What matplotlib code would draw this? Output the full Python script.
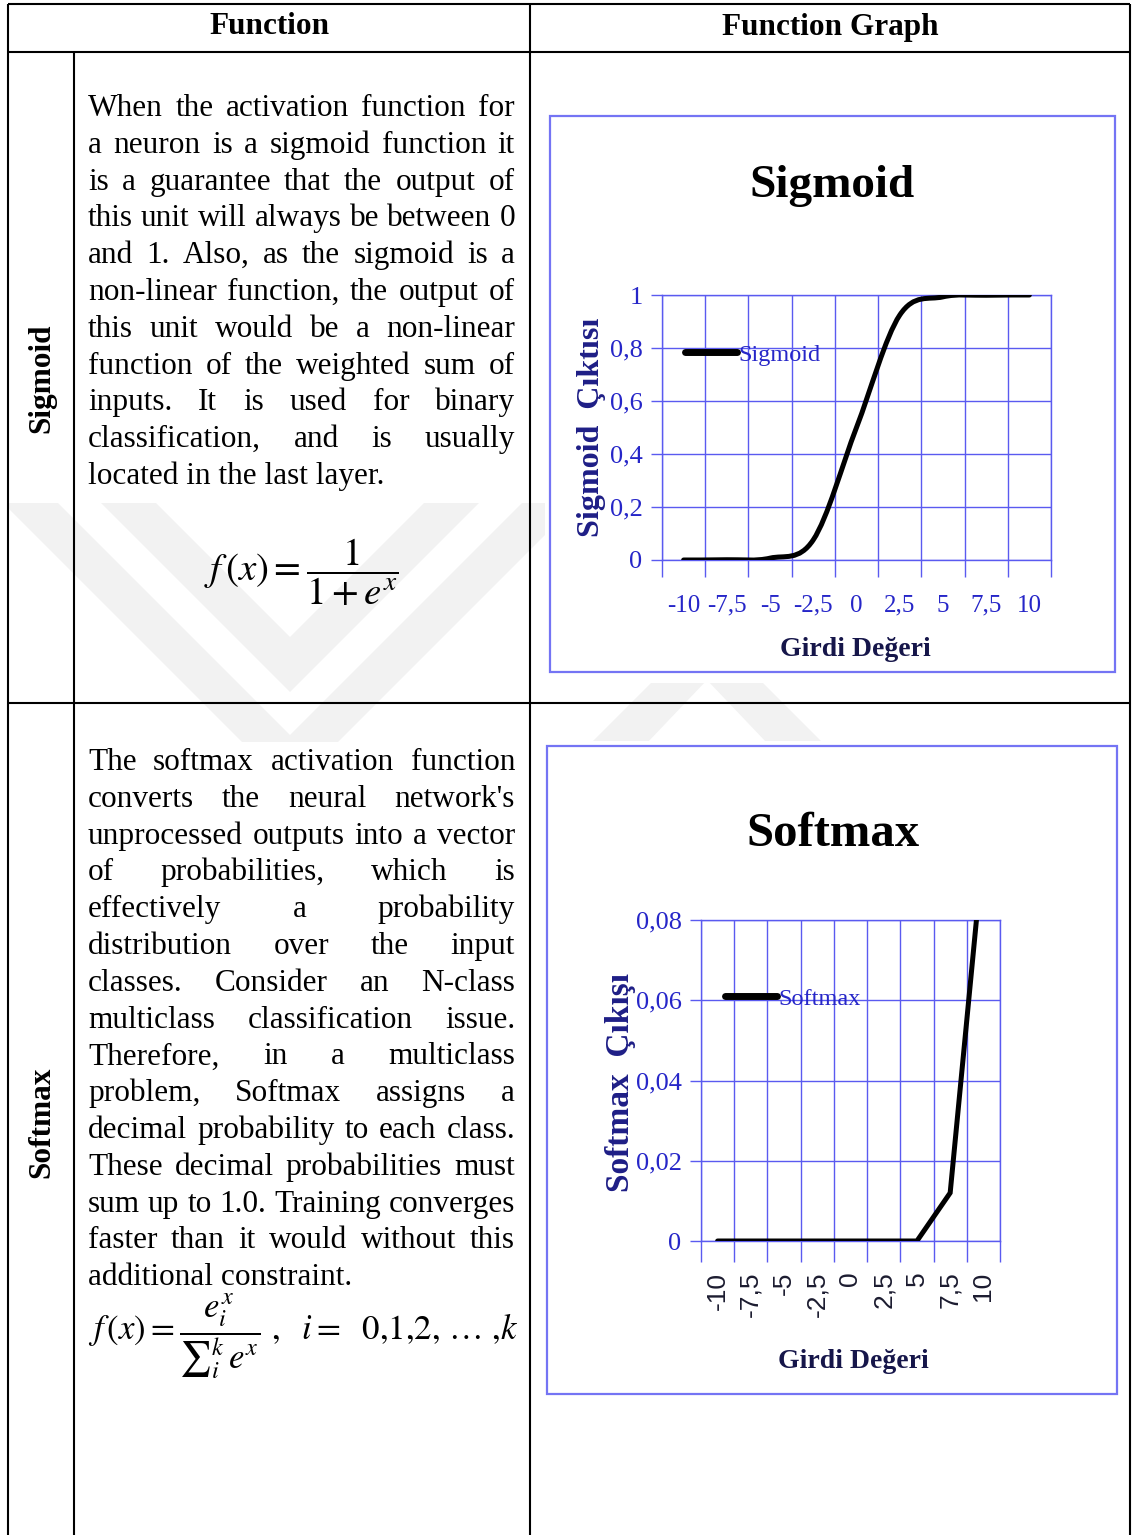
import numpy as np
import matplotlib
matplotlib.use("Agg")
import matplotlib.pyplot as plt
from matplotlib.path import Path
from matplotlib.patches import PathPatch, Rectangle, Polygon
from matplotlib.lines import Line2D

plt.rcParams['mathtext.fontset'] = 'stix'
SERIF = "Liberation Serif"
SANS = "Liberation Sans"

W, H = 1132, 1535

# ---- data ----
headers = ["Function", "Function Graph"]
row_names = ["Sigmoid", "Softmax"]

sigmoid_text = ["When the activation function for",
                "a neuron is a sigmoid function it",
                "is a guarantee that the output of",
                "this unit will always be between 0",
                "and 1. Also, as the sigmoid is a",
                "non-linear function, the output of",
                "this unit would be a non-linear",
                "function of the weighted sum of",
                "inputs. It is used for binary",
                "classification, and is usually",
                "located in the last layer."]

softmax_text = ["The softmax activation function",
                "converts the neural network's",
                "unprocessed outputs into a vector",
                "of probabilities, which is",
                "effectively a probability",
                "distribution over the input",
                "classes. Consider an N-class",
                "multiclass classification issue.",
                "Therefore, in a multiclass",
                "problem, Softmax assigns a",
                "decimal probability to each class.",
                "These decimal probabilities must",
                "sum up to 1.0. Training converges",
                "faster than it would without this",
                "additional constraint."]

sigmoid_formula = r"$f\,(x) = \dfrac{1}{1 + e^{x}}$"
softmax_formula = r"$f\,(x) = \dfrac{e_i^{x}}{{\sum}_i^k\, e^{x}}\ ,\ \ i =\ \ 0{,}1{,}2{,}\ \ldots\ {,}k$"

x_labels = ["-10", "-7,5", "-5", "-2,5", "0", "2,5", "5", "7,5", "10"]
sigmoid_y = [0.0, 0.001, 0.007, 0.076, 0.5, 0.924, 0.993, 0.999, 1.0]
softmax_y = [0.0, 0.0, 0.0, 0.0, 0.0, 0.0, 0.0, 0.012, 0.098]
sig_yticks = [0, 0.2, 0.4, 0.6, 0.8, 1.0]
sig_ytick_labels = ["0", "0,2", "0,4", "0,6", "0,8", "1"]
soft_yticks = [0, 0.02, 0.04, 0.06, 0.08]
soft_ytick_labels = ["0", "0,02", "0,04", "0,06", "0,08"]

GRID = "#5a5af0"
FRAME = "#7474f4"
TICKBLUE = "#2626c8"
NAVY = "#1e1e86"
DARK = "#16164a"

fig = plt.figure(figsize=(W / 100, H / 100), dpi=100)
bg = fig.add_axes([0, 0, 1, 1])
bg.set_xlim(0, W)
bg.set_ylim(H, 0)
bg.axis("off")

# faint watermark (chevrons), only visible in a horizontal strip
wm = "#f2f2f2"
clip = Rectangle((8, 503), 1122, 239, transform=bg.transData)
vx = 290
for y_in, y_out in [(637, 692), (735, 790)]:
    pts = [(vx - (y_out - 400), 400), (vx, y_out), (vx + (y_out - 400), 400),
           (vx + (y_in - 400), 400), (vx, y_in), (vx - (y_in - 400), 400)]
    p = Polygon(pts, closed=True, fc=wm, ec="none", zorder=0)
    bg.add_patch(p)
    p.set_clip_path(clip)
lam = Polygon([(707, 627), (907, 827), (847, 827), (707, 680), (567, 827), (507, 827)],
              closed=True, fc=wm, ec="none", zorder=0)
bg.add_patch(lam)
lam.set_clip_path(clip)

# chart images are opaque
bg.add_patch(Rectangle((545, 100), 583, 583, fc="white", ec="none", zorder=0.5))
bg.add_patch(Rectangle((545, 741), 583, 660, fc="white", ec="none", zorder=0.5))

# table borders
lw = 1.5
for xs, ys in [((8, 1130), (4, 4)), ((8, 1130), (52, 52)), ((8, 1130), (703, 703)),
               ((8, 8), (4, H)), ((1130, 1130), (4, H)), ((530, 530), (4, H)),
               ((74, 74), (52, H))]:
    bg.plot(xs, ys, color="black", lw=lw, solid_capstyle="butt", zorder=2)

bg.text(270, 27, headers[0], fontsize=22.5, family=SERIF, weight="bold", ha="center", va="center")
bg.text(830, 27, headers[1], fontsize=22.5, family=SERIF, weight="bold", ha="center", va="center")
bg.text(42, 378, row_names[0], fontsize=22.5, family=SERIF, weight="bold", rotation=90,
        ha="center", va="center")
bg.text(42, 1122, row_names[1], fontsize=22.5, family=SERIF, weight="bold", rotation=90,
        ha="center", va="center")

renderer = fig.canvas.get_renderer()


def paragraph(lines, x0, x1, y0, step, size=22.5):
    for k, line in enumerate(lines):
        y = y0 + k * step
        if k == len(lines) - 1:
            bg.text(x0, y, line, fontsize=size, family=SERIF, va="baseline", zorder=3)
            continue
        words = line.split()
        ts = [bg.text(x0, y, w, fontsize=size, family=SERIF, va="baseline", zorder=3)
              for w in words]
        widths = [t.get_window_extent(renderer).width for t in ts]
        gap = (x1 - x0 - sum(widths)) / (len(words) - 1)
        x = x0
        for t, w in zip(ts, widths):
            t.set_x(x)
            x += w + gap


paragraph(sigmoid_text, 88, 515, 116, 36.8)
paragraph(softmax_text, 88, 515, 770, 36.8)

bg.text(301, 572, sigmoid_formula, fontsize=28, ha="center", va="center", zorder=3)
bg.text(88, 1336, softmax_formula, fontsize=25, ha="left", va="center", zorder=3)

# chart frames
bg.add_patch(Rectangle((550, 116), 565, 556, fc="white", ec=FRAME, lw=1.6, zorder=1))
bg.add_patch(Rectangle((547, 746), 570, 648, fc="white", ec=FRAME, lw=1.6, zorder=1))


def smooth_path(xs, ys):
    verts = [(xs[0], ys[0])]
    codes = [Path.MOVETO]
    n = len(xs)
    for i in range(n - 1):
        a, b = max(i - 1, 0), min(i + 2, n - 1)
        c1 = (xs[i] + (xs[i + 1] - xs[a]) / 6, ys[i] + (ys[i + 1] - ys[a]) / 6)
        c2 = (xs[i + 1] - (xs[b] - xs[i]) / 6, ys[i + 1] - (ys[b] - ys[i]) / 6)
        verts += [c1, c2, (xs[i + 1], ys[i + 1])]
        codes += [Path.CURVE4] * 3
    return Path(verts, codes)


def setup_axes(ax, yticks, ylabels, ylim, ysize, xsize, xfamily, xcolor, xrot, xpad, xlen):
    n = len(x_labels)
    ax.set_facecolor("none")
    ax.set_xlim(-0.5, n - 0.5)
    ax.set_ylim(*ylim)
    ax.set_xticks(range(n))
    ax.set_xticklabels(x_labels, fontsize=xsize, family=xfamily, color=xcolor, rotation=xrot)
    ax.set_xticks(np.arange(-0.5, n, 1), minor=True)
    ax.tick_params(axis="x", which="major", length=0, pad=xpad)
    ax.tick_params(axis="x", which="minor", length=xlen, width=1, color=GRID)
    ax.set_yticks(yticks)
    ax.set_yticklabels(ylabels, fontsize=ysize, family=SERIF, color=TICKBLUE)
    ax.tick_params(axis="y", length=8, width=1, color=GRID, pad=6)
    ax.grid(True, which="minor", axis="x", color=GRID, lw=1)
    ax.grid(True, which="major", axis="y", color=GRID, lw=1)
    for s in ax.spines.values():
        s.set_color(GRID)
        s.set_linewidth(1)


# ---- sigmoid chart ----
ax1 = fig.add_axes([662 / W, 1 - 560 / H, 389 / W, 265 / H])
setup_axes(ax1, sig_yticks, sig_ytick_labels, (0, 1), 19, 18, SERIF, TICKBLUE, 0, 25, 12)
xi = np.arange(len(x_labels), dtype=float)
ax1.add_patch(PathPatch(smooth_path(xi, sigmoid_y), fc="none", ec="black", lw=3.6,
                        capstyle="round", zorder=5, clip_on=True))
h1 = Line2D([], [], color="black", lw=5, solid_capstyle="round", label="Sigmoid")
ax1.legend(handles=[h1], loc="center left", bbox_to_anchor=(0.058, 0.775), frameon=False,
           borderpad=0, borderaxespad=0, handlelength=2.15, handletextpad=0.05,
           prop={"family": SERIF, "size": 17.5}, labelcolor=TICKBLUE)
bg.text(832, 186, "Sigmoid", fontsize=34, family=SERIF, weight="bold", ha="center", va="center")
bg.text(855, 650, "Girdi Değeri", fontsize=20, family=SERIF, weight="bold", color=DARK,
        ha="center", va="center")
bg.text(592, 427, "Sigmoid  Çıktısı", fontsize=23, family=SERIF, weight="bold", color=NAVY,
        rotation=90, ha="center", va="center")

# ---- softmax chart ----
ax2 = fig.add_axes([701 / W, 1 - 1241 / H, 299 / W, 321 / H])
setup_axes(ax2, soft_yticks, soft_ytick_labels, (0, 0.08), 19, 19, SANS, "#1c1c30", 90, 22, 15)
ax2.plot(xi, softmax_y, color="black", lw=3.6, solid_capstyle="round", solid_joinstyle="miter",
         zorder=5)
h2 = Line2D([], [], color="black", lw=5, solid_capstyle="round", label="Softmax")
ax2.legend(handles=[h2], loc="center left", bbox_to_anchor=(0.08, 0.754), frameon=False,
           borderpad=0, borderaxespad=0, handlelength=2.15, handletextpad=0.05,
           prop={"family": SERIF, "size": 17.5}, labelcolor=TICKBLUE)
bg.text(833, 834, "Softmax", fontsize=35, family=SERIF, weight="bold", ha="center", va="center")
bg.text(853, 1361, "Girdi Değeri", fontsize=20, family=SERIF, weight="bold", color=DARK,
        ha="center", va="center")
bg.text(621, 1082, "Softmax  Çıkışı", fontsize=24, family=SERIF, weight="bold", color=NAVY,
        rotation=90, ha="center", va="center")

fig.savefig("out.png", dpi=100)
